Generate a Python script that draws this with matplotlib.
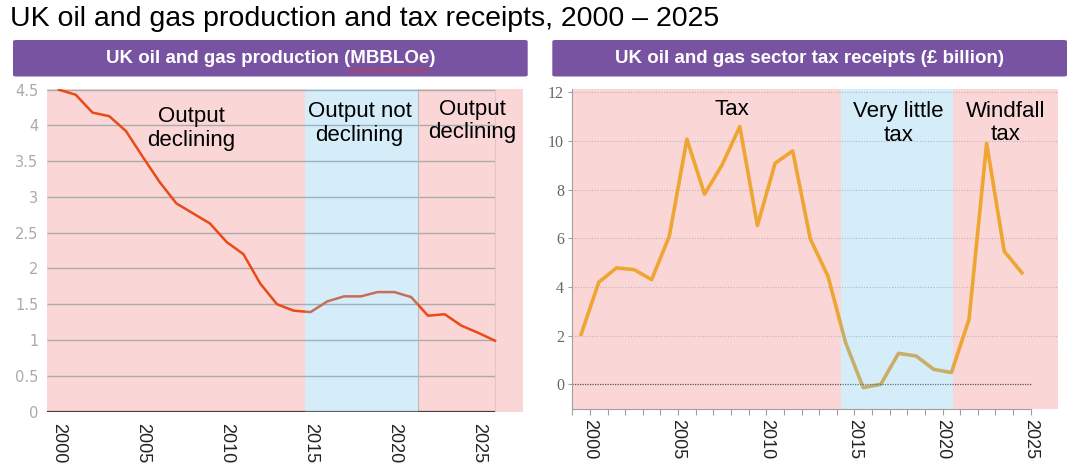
import matplotlib
matplotlib.use("Agg")
import matplotlib.pyplot as plt
from matplotlib.patches import FancyBboxPatch
from matplotlib.lines import Line2D

# UK oil and gas production (MBBLOe), one point per year
prod_years = list(range(2000, 2027))
production = [4.50, 4.43, 4.18, 4.13, 3.92, 3.56, 3.21, 2.91, 2.77, 2.63,
              2.37, 2.20, 1.79, 1.50, 1.41, 1.39, 1.54, 1.61, 1.61, 1.67,
              1.67, 1.60, 1.34, 1.36, 1.20, 1.10, 0.99]

# sector tax receipts (GBP billion), by fiscal year start
tax_years = list(range(1999, 2025))
tax = [2.05, 4.19, 4.78, 4.71, 4.30, 6.08, 10.07, 7.81, 9.02, 10.59,
       6.52, 9.08, 9.59, 5.97, 4.44, 1.71, -0.14, 0.00, 1.27, 1.16,
       0.61, 0.48, 2.66, 9.90, 5.46, 4.58]

prod_labels = ["Output\ndeclining", "Output not\ndeclining", "Output\ndeclining"]
tax_labels = ["Tax", "Very little\ntax", "Windfall\ntax"]
prod_blue = (2014.66, 2021.43)
tax_blue = (2014.22, 2020.6)
year_ticks = [2000, 2005, 2010, 2015, 2020, 2025]

PINK = "#fad6d6"
BLUE = "#73c6eb"
PURPLE = "#7853a2"
SANS = ["Liberation Sans", "DejaVu Sans"]

fig = plt.figure(figsize=(10.88, 4.68), dpi=100)
renderer = fig.canvas.get_renderer()

fig.text(10 / 1088, 1 - 26 / 468, "UK oil and gas production and tax receipts, 2000 \u2013 2025",
         fontsize=20.5, family=SANS, va="baseline", ha="left", color="black")

# purple header bars
head_texts = []
for x0, x1, txt in [(13, 527.7, "UK oil and gas production (MBBLOe)"),
                    (552.3, 1067, "UK oil and gas sector tax receipts (\u00a3 billion)")]:
    fx0, fx1 = x0 / 1088, x1 / 1088
    fy0, fy1 = 1 - 76.5 / 468, 1 - 40 / 468
    fig.patches.append(FancyBboxPatch((fx0, fy0), fx1 - fx0, fy1 - fy0,
                                      boxstyle="round,pad=0,rounding_size=0.003",
                                      transform=fig.transFigure, facecolor=PURPLE,
                                      edgecolor="none"))
    head_texts.append(fig.text((fx0 + fx1) / 2, (fy0 + fy1) / 2, txt, color="white",
                               fontsize=13.5, fontweight="bold", family=SANS,
                               ha="center", va="center"))

# spell-check squiggle under "MBBLOe"
bb = head_texts[0].get_window_extent(renderer)
tmp = fig.text(0, 0, "UK oil and gas production (", fontsize=13.5, fontweight="bold", family=SANS)
pre_w = tmp.get_window_extent(renderer).width
tmp.set_text("MBBLOe")
word_w = tmp.get_window_extent(renderer).width
tmp.remove()
sx0 = (bb.x0 + pre_w) / 1088
sx1 = (bb.x0 + pre_w + word_w) / 1088
fig.lines.append(Line2D([sx0, sx1], [1 - 69.5 / 468] * 2, transform=fig.transFigure,
                        color="#e03030", lw=1.4, linestyle=(0, (1.2, 0.8)), zorder=5))

# ---- left: production ----
ax1 = fig.add_axes([46.7 / 1088, 1 - 411.5 / 468, 476 / 1088, 322.5 / 468])
ax1.set_xlim(1999.27, 2027.65)
ax1.set_ylim(0, 4.51)
ax1.axvspan(1999.27, prod_blue[0], color=PINK, lw=0, zorder=0)
ax1.axvspan(prod_blue[1], 2027.65, color=PINK, lw=0, zorder=0)
ax1.hlines([0.5, 1, 1.5, 2, 2.5, 3, 3.5, 4, 4.5], 1999.27, 2026, color="#ababab", lw=1, zorder=1)
ax1.hlines(0, 1999.27, 2026, color="#4a3a3a", lw=1.6, zorder=3)
ax1.axvline(prod_blue[1], color="#bbbbbb", lw=0.8, zorder=1)
ax1.axvline(2026, color="#e6c4c4", lw=0.8, zorder=1)
ax1.plot(prod_years, production, color="#ea4a16", lw=1.8, zorder=2)
ax1.axvspan(prod_blue[0], prod_blue[1], color=BLUE, alpha=0.3, lw=0, zorder=4)
for sp in ax1.spines.values():
    sp.set_visible(False)
ax1.set_yticks([0, 0.5, 1, 1.5, 2, 2.5, 3, 3.5, 4, 4.5])
ax1.set_yticklabels(["0", "0.5", "1", "1.5", "2", "2.5", "3", "3.5", "4", "4.5"])
ax1.set_xticks(year_ticks)
ax1.set_xticklabels([str(y) for y in year_ticks], rotation=-90)
ax1.tick_params(axis="y", length=0, pad=6, labelsize=10.5, labelcolor="#aaaaaa")
ax1.tick_params(axis="x", length=0, pad=8, labelsize=13, labelcolor="#222222")
for lab in ax1.get_xticklabels():
    lab.set_family(SANS)
for x, y, txt in [(2007.87, 3.96, prod_labels[0]), (2017.93, 4.03, prod_labels[1]),
                  (2024.65, 4.06, prod_labels[2])]:
    ax1.text(x, y, txt, ha="center", va="center", fontsize=16, family=SANS,
             linespacing=1.15, zorder=5)

# ---- right: tax receipts ----
ax2 = fig.add_axes([572.3 / 1088, 1 - 409.3 / 468, 485.4 / 1088, 320 / 468])
ax2.set_xlim(1999, 2026.53)
ax2.set_ylim(-1.03, 12.12)
ax2.axvspan(1999, tax_blue[0], color=PINK, lw=0, zorder=0)
ax2.axvspan(tax_blue[1], 2026.53, color=PINK, lw=0, zorder=0)
ax2.hlines([2, 4, 6, 8, 10, 12], 1999, 2026.53, color="#c0b4b4", lw=0.8,
           linestyle=(0, (1, 1.5)), zorder=1)
ax2.hlines(0, 1999, 2025, color="#555555", lw=0.9, linestyle=(0, (1, 1)), zorder=3)
ax2.plot([y + 0.5 for y in tax_years], tax, color="#eea532", lw=2.6, zorder=2)
ax2.axvspan(tax_blue[0], tax_blue[1], color=BLUE, alpha=0.3, lw=0, zorder=4)
ax2.spines["top"].set_visible(False)
ax2.spines["right"].set_visible(False)
ax2.spines["left"].set_color("#a0a0a0")
ax2.spines["bottom"].set_color("#a0a0a0")
ax2.spines["bottom"].set_bounds(1999, 2025)
ax2.spines["left"].set_zorder(6)
ax2.spines["bottom"].set_zorder(6)
ax2.set_yticks([0, 2, 4, 6, 8, 10, 12])
ax2.set_yticklabels(["0", "2", "4", "6", "8", "10", "12"],
                    family=["Liberation Serif", "DejaVu Serif"], fontsize=11.5)
ax2.set_xticks(list(range(1999, 2026)), minor=True)
ax2.set_xticks(year_ticks)
ax2.set_xticklabels([str(y) for y in year_ticks], rotation=-90)
ax2.tick_params(axis="y", length=3, width=0.8, color="#a0a0a0", pad=3,
                labelcolor="#666666")
ax2.tick_params(axis="x", which="both", length=4, width=0.8, color="#a0a0a0",
                pad=3, labelsize=13, labelcolor="#222222")
for lab in ax2.get_xticklabels():
    lab.set_family(SANS)
for x, y, txt in [(2008.06, 11.27, tax_labels[0]), (2017.5, 10.72, tax_labels[1]),
                  (2023.6, 10.74, tax_labels[2])]:
    ax2.text(x, y, txt, ha="center", va="center", fontsize=16, family=SANS,
             linespacing=1.15, zorder=5)

fig.savefig("out.png", dpi=100)
